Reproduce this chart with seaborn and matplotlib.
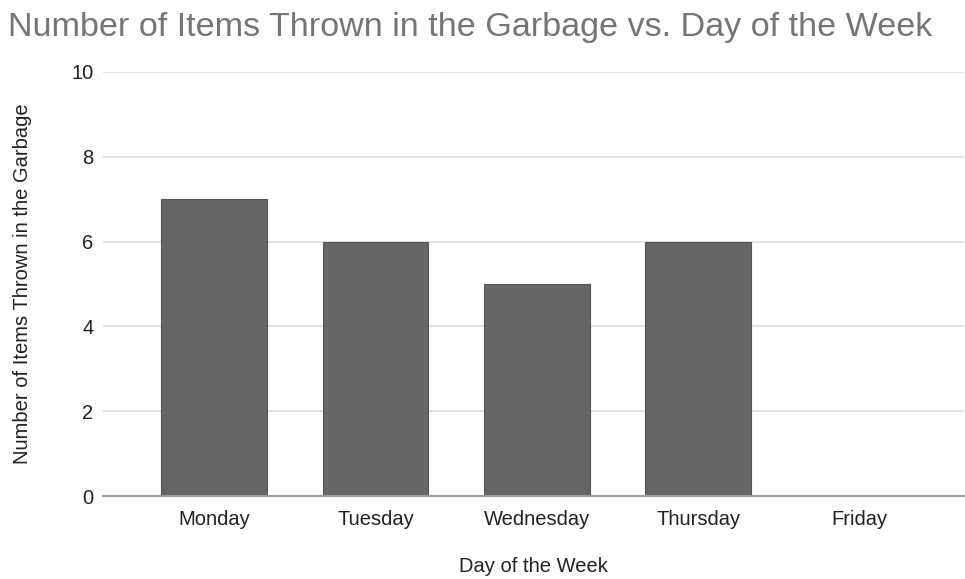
import matplotlib
matplotlib.use("Agg")
import matplotlib.pyplot as plt
import pandas as pd
import seaborn as sns

DAYS = ["Monday", "Tuesday", "Wednesday", "Thursday", "Friday"]
ITEMS = [7, 6, 5, 6, 0]
Y_TICKS = [0, 2, 4, 6, 8, 10]

TITLE = "Number of Items Thrown in the Garbage vs. Day of the Week"
X_LABEL = "Day of the Week"
Y_LABEL = "Number of Items Thrown in the Garbage"


def main() -> None:
    df = pd.DataFrame({"day": DAYS, "items": ITEMS})

    sns.set_theme(style="white")
    plt.rcParams["font.family"] = ["Liberation Sans", "DejaVu Sans"]

    W, H = 965, 579
    fig = plt.figure(figsize=(W / 100, H / 100), dpi=100)
    ax = fig.add_axes([103 / W, 1 - 496 / H, (964 - 103) / W, (496 - 72) / H])

    sns.barplot(
        data=df,
        x="day",
        y="items",
        color="#666666",
        saturation=1,
        width=0.655,
        edgecolor="#555555",
        linewidth=0.8,
        ax=ax,
        zorder=3,
    )

    ax.set_ylim(0, 10)
    ax.set_xlim(-0.688, 4.647)
    ax.set_yticks(Y_TICKS)
    ax.set_yticklabels([str(t) for t in Y_TICKS])
    ax.grid(axis="y", color="#dddddd", linewidth=1.2, zorder=0)
    ax.grid(axis="x", visible=False)
    for side in ["top", "right", "left"]:
        ax.spines[side].set_visible(False)
    ax.spines["bottom"].set_color("#9e9e9e")
    ax.spines["bottom"].set_linewidth(1.5)
    ax.spines["bottom"].set_zorder(4)

    ax.tick_params(axis="both", length=0, labelsize=14.5, labelcolor="#222222")
    ax.tick_params(axis="x", pad=10)
    ax.tick_params(axis="y", pad=7)

    ax.set_xlabel(X_LABEL, fontsize=14.5, color="#222222", labelpad=20)
    ax.set_ylabel(Y_LABEL, fontsize=14.5, color="#222222", labelpad=28)

    fig.text(8 / W, 1 - 36 / H, TITLE, fontsize=24.6,
             color="#757575", ha="left", va="baseline")

    fig.savefig("out.png", dpi=100)


if __name__ == "__main__":
    main()
